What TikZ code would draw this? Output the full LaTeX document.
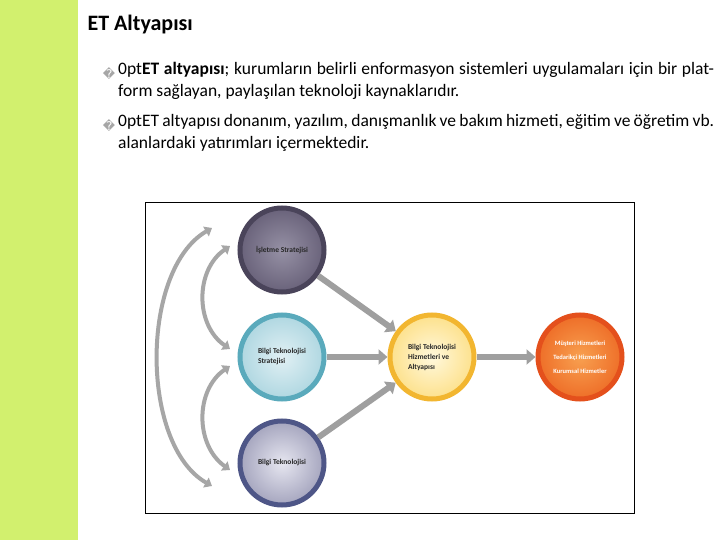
\documentclass[tikz,border=0pt]{standalone}
\usepackage{fontspec}
\setmainfont{Carlito}
\newfontfamily\dejavu{DejaVu Sans}
\usetikzlibrary{arrows.meta}
\definecolor{strip}{RGB}{210,240,110}
\tikzset{
 circ/.style={circle,minimum size=84pt,line width=5pt,inner sep=0pt,font=\bfseries\fontsize{7.5}{10}\selectfont,align=left,text=black!85},
 flow/.style={line width=6pt,draw=gray!75,-{Triangle[length=9pt,width=15pt]}},
 loop/.style={line width=4pt,draw=gray!70,{Triangle[length=7pt,width=11pt]}-{Triangle[length=7pt,width=11pt]}},
 bul/.style={font=\dejavu\fontsize{12}{12}\selectfont,text=gray!70,inner sep=0pt},
 body/.style={anchor=north west,inner sep=0pt,text width=596pt,align=justify,font=\fontsize{17.5}{22}\selectfont\hyphenpenalty=10000\exhyphenpenalty=10000}
}
\begin{document}
\begin{tikzpicture}[x=1pt,y=-1pt]
\useasboundingbox (0,0) rectangle (720,540);
\fill[white] (0,0) rectangle (720,540);
\fill[strip] (0,0) rectangle (78,540);
\node[anchor=west,font=\bfseries\fontsize{22}{24}\selectfont] (title) at (84,25) {ET Altyapısı};
\node[bul] (b1) at (109,74) {�};
\node[body] (t1) at (118,62) {\textbf{ET altyapısı}; kurumların belirli enformasyon sistemleri uygulamaları için bir platform sağlayan, paylaşılan teknoloji kaynaklarıdır.};
\node[bul] (b2) at (109,126) {�};
\node[body] (t2) at (118,114) {ET altyapısı donanım, yazılım, danışmanlık ve bakım hizmeti, eğitim ve öğretim vb. alanlardaki yatırımları içermektedir.};
\draw[black,line width=0.8pt] (145,202) rectangle (634,513);
\definecolor{c1r}{RGB}{74,68,90}\definecolor{c1i}{RGB}{150,145,165}\definecolor{c1o}{RGB}{105,98,122}
\definecolor{c2r}{RGB}{90,170,188}\definecolor{c2i}{RGB}{225,240,244}\definecolor{c2o}{RGB}{175,215,225}
\definecolor{c3r}{RGB}{78,86,135}\definecolor{c3i}{RGB}{230,230,240}\definecolor{c3o}{RGB}{165,165,190}
\definecolor{c4r}{RGB}{242,182,48}\definecolor{c4i}{RGB}{255,248,220}\definecolor{c4o}{RGB}{253,225,140}
\definecolor{c5r}{RGB}{228,80,28}\definecolor{c5i}{RGB}{248,160,80}\definecolor{c5o}{RGB}{238,110,40}
\node[circ,draw=c1r,inner color=c1i,outer color=c1o] (is) at (282,250) {İşletme Stratejisi};
\node[circ,draw=c2r,inner color=c2i,outer color=c2o] (bts) at (282,357) {Bilgi Teknolojisi\\Stratejisi};
\node[circ,draw=c3r,inner color=c3i,outer color=c3o] (bt) at (282,463) {Bilgi Teknolojisi};
\node[circ,draw=c4r,inner color=c4i,outer color=c4o] (bth) at (432,357) {Bilgi Teknolojisi\\Hizmetleri ve\\Altyapısı};
\node[circ,draw=c5r,inner color=c5i,outer color=c5o,text=white,align=center,font=\bfseries\fontsize{6.5}{9}\selectfont] (ms) at (580,357) {Müşteri Hizmetleri\\[5pt]Tedarikçi Hizmetleri\\[5pt]Kurumsal Hizmetler};
\draw[flow] (is) -- (bth);
\draw[flow] (bts) -- (bth);
\draw[flow] (bt) -- (bth);
\draw[flow] (bth) -- (ms);
\coordinate (a1) at (230,246);
\coordinate (a2) at (230,349);
\coordinate (a3) at (230,366);
\coordinate (a4) at (230,470);
\coordinate (o1) at (212,228);
\coordinate (o2) at (212,486);
\draw[loop] (a1) .. controls (195,270) and (195,325) .. (a2);
\draw[loop] (a3) .. controls (195,390) and (195,445) .. (a4);
\draw[loop] (o1) .. controls (140,270) and (140,445) .. (o2);
\end{tikzpicture}
\end{document}
